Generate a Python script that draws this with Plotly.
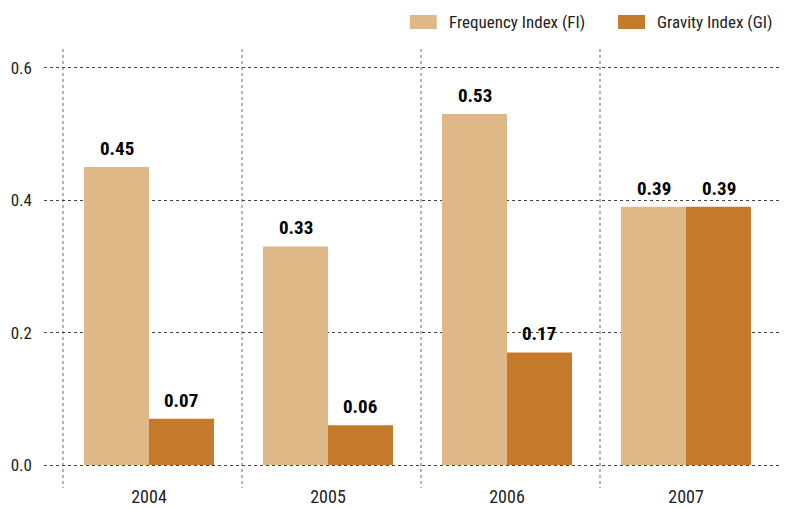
import plotly.graph_objects as go

# Yearly indices
years = ["2004", "2005", "2006", "2007"]
frequency_index = [0.45, 0.33, 0.53, 0.39]
gravity_index = [0.07, 0.06, 0.17, 0.39]
series_names = ["Frequency Index (FI)", "Gravity Index (GI)"]
y_ticks = [0.0, 0.2, 0.4, 0.6]

FI_COLOR = "#DEB887"
GI_COLOR = "#C47A2A"
FONT = "Roboto Condensed, Liberation Sans Narrow, Arial Narrow, Roboto, sans-serif"
BARGAP = 0.274

x_pos = list(range(len(years)))

fig = go.Figure()
fig.add_trace(go.Bar(x=x_pos, y=frequency_index, name=series_names[0],
                     marker=dict(color=FI_COLOR, line=dict(width=0)),
                     showlegend=False))
fig.add_trace(go.Bar(x=x_pos, y=gravity_index, name=series_names[1],
                     marker=dict(color=GI_COLOR, line=dict(width=0)),
                     showlegend=False))

# value labels above each bar
half = (1 - BARGAP) / 4
annotations = []
for series, off in ((frequency_index, -half), (gravity_index, half)):
    for xi, v in zip(x_pos, series):
        annotations.append(dict(
            x=xi + off, y=v, xref="x", yref="y", text=f"{v:.2f}",
            showarrow=False, yanchor="bottom", yshift=5,
            font=dict(family=FONT, size=19, color="#000000", weight="bold")))

# legend drawn as swatches plus labels along the top
shapes = []
legend_items = [(series_names[0], FI_COLOR, 0.497, 0.547),
                (series_names[1], GI_COLOR, 0.780, 0.830)]
for name, color, sx, tx in legend_items:
    shapes.append(dict(type="rect", xref="paper", yref="paper",
                       x0=sx, x1=sx + 0.0367, y0=1.0456, y1=1.0774,
                       fillcolor=color, line=dict(width=0)))
    annotations.append(dict(x=tx, y=1.0615, xref="paper", yref="paper",
                            text=name, showarrow=False, xanchor="left",
                            yanchor="middle",
                            font=dict(family=FONT, size=17, color="#222222")))

fig.update_layout(
    width=790, height=509,
    margin=dict(l=44, r=10, t=49, b=21, autoexpand=False),
    paper_bgcolor="white", plot_bgcolor="white",
    barmode="group", bargap=BARGAP, bargroupgap=0,
    showlegend=False,
    font=dict(family=FONT, color="#222222"),
    annotations=annotations,
    shapes=shapes,
)
fig.update_xaxes(
    range=[-0.5866, 3.5251], automargin=False,
    tickvals=x_pos, ticktext=years,
    showgrid=False, zeroline=False, showline=False, ticks="",
    tickfont=dict(family=FONT, size=18, color="#222222"),
    ticklabelstandoff=-4,
    minor=dict(tickvals=[i - 0.48 for i in range(len(years) + 1)],
               showgrid=True, gridcolor="#B4B4B4", gridwidth=2,
               griddash="dot", ticks=""),
)
fig.update_yaxes(
    range=[-0.0347, 0.6282], automargin=False,
    tickvals=y_ticks, tickformat=".1f",
    showgrid=True, gridcolor="#444444", gridwidth=1, griddash="dot",
    zeroline=False, showline=False, ticks="",
    tickfont=dict(family=FONT, size=17, color="#222222"),
    ticklabelstandoff=11,
)

fig.write_html("out.html")
